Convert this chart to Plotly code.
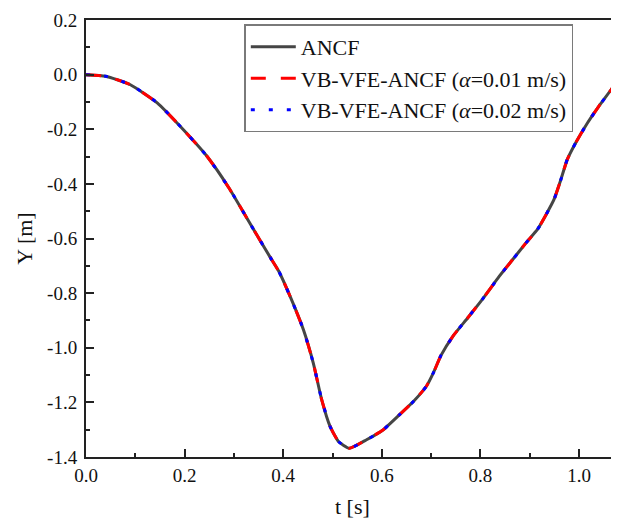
import plotly.graph_objects as go

# ---- data ----
t_vals = [0.0, 0.04, 0.09, 0.145, 0.19, 0.245, 0.29, 0.333, 0.374, 0.391, 0.414,
          0.441, 0.461, 0.478, 0.495, 0.512, 0.534, 0.569, 0.603, 0.636, 0.665,
          0.69, 0.705, 0.72, 0.744, 0.774, 0.805, 0.838, 0.865, 0.892, 0.916,
          0.933, 0.949, 0.963, 0.976, 0.993, 1.017, 1.04, 1.067, 1.082]
y_ancf = [0.0, -0.006, -0.037, -0.104, -0.187, -0.298, -0.415, -0.546, -0.67, -0.72,
          -0.812, -0.934, -1.056, -1.19, -1.288, -1.343, -1.368, -1.337, -1.300,
          -1.245, -1.195, -1.142, -1.09, -1.028, -0.958, -0.891, -0.82, -0.739,
          -0.678, -0.617, -0.566, -0.513, -0.458, -0.385, -0.311, -0.25, -0.177,
          -0.116, -0.05, -0.006]
y_vb001 = list(y_ancf)
y_vb002 = list(y_ancf)

series_names = ["ANCF",
                "VB-VFE-ANCF (<i>α</i>=0.01 m/s)",
                "VB-VFE-ANCF (<i>α</i>=0.02 m/s)"]

x_tickvals = [0.0, 0.2, 0.4, 0.6, 0.8, 1.0]
x_ticktext = ["0.0", "0.2", "0.4", "0.6", "0.8", "1.0"]
y_tickvals = [0.2, 0.0, -0.2, -0.4, -0.6, -0.8, -1.0, -1.2, -1.4]
y_ticktext = ["0.2", "0.0", "-0.2", "-0.4", "-0.6", "-0.8", "-1.0", "-1.2", "-1.4"]
x_title = "t [s]"
y_title = "Y [m]"

FONT = "Liberation Serif"
AX = "#222222"
TXT = "#111111"

fig = go.Figure()
fig.add_trace(go.Scatter(x=t_vals, y=y_ancf, name=series_names[0], mode="lines",
                         line=dict(color="#454545", width=3, shape="spline", smoothing=0.5)))
fig.add_trace(go.Scatter(x=t_vals, y=y_vb001, name=series_names[1], mode="lines",
                         line=dict(color="#ff0000", width=3, dash="15px,15px",
                                   shape="spline", smoothing=0.5)))
fig.add_trace(go.Scatter(x=t_vals, y=y_vb002, name=series_names[2], mode="lines",
                         line=dict(color="#0000ff", width=3, dash="4px,14px",
                                   shape="spline", smoothing=0.5)))

# page body has an 8px default margin, so the figure is sized/placed to compensate
fig.update_layout(
    width=611, height=513,
    margin=dict(l=78, r=0, t=12, b=64, pad=0, autoexpand=False),
    paper_bgcolor="white", plot_bgcolor="white",
    font=dict(family=FONT, size=19, color=TXT),
    showlegend=True,
    legend=dict(x=0.297, y=0.99, xanchor="left", yanchor="top",
                bgcolor="white", bordercolor="#7a7a7a", borderwidth=1.5,
                font=dict(family=FONT, size=22, color=TXT),
                tracegroupgap=0, itemwidth=45),
    annotations=[
        dict(text=x_title, xref="paper", yref="paper", x=0.5, y=-0.114,
             xanchor="center", yanchor="middle", showarrow=False,
             font=dict(family=FONT, size=22, color=TXT)),
        dict(text=y_title, xref="paper", yref="paper", x=-0.116, y=0.5,
             xanchor="center", yanchor="middle", showarrow=False, textangle=-90,
             font=dict(family=FONT, size=22, color=TXT)),
    ],
)

fig.update_xaxes(
    range=[0, 1.081], showgrid=False, zeroline=False, automargin=False,
    showline=True, linecolor=AX, linewidth=2, mirror=True,
    ticks="inside", ticklen=8, tickwidth=2, tickcolor=AX,
    tickvals=x_tickvals, ticktext=x_ticktext,
    tickfont=dict(family=FONT, size=19, color=TXT),
    minor=dict(ticks="inside", ticklen=4, tickwidth=2, tickcolor=AX, dtick=0.1, tick0=0),
    ticklabelstandoff=0,
)
fig.update_yaxes(
    range=[-1.4, 0.2], showgrid=False, zeroline=False, automargin=False,
    showline=True, linecolor=AX, linewidth=2, mirror=False,
    ticks="inside", ticklen=8, tickwidth=2, tickcolor=AX,
    tickvals=y_tickvals, ticktext=y_ticktext,
    tickfont=dict(family=FONT, size=19, color=TXT),
    minor=dict(ticks="inside", ticklen=4, tickwidth=2, tickcolor=AX, dtick=0.1, tick0=0),
    ticklabelstandoff=3,
)

fig.write_html("out.html")
